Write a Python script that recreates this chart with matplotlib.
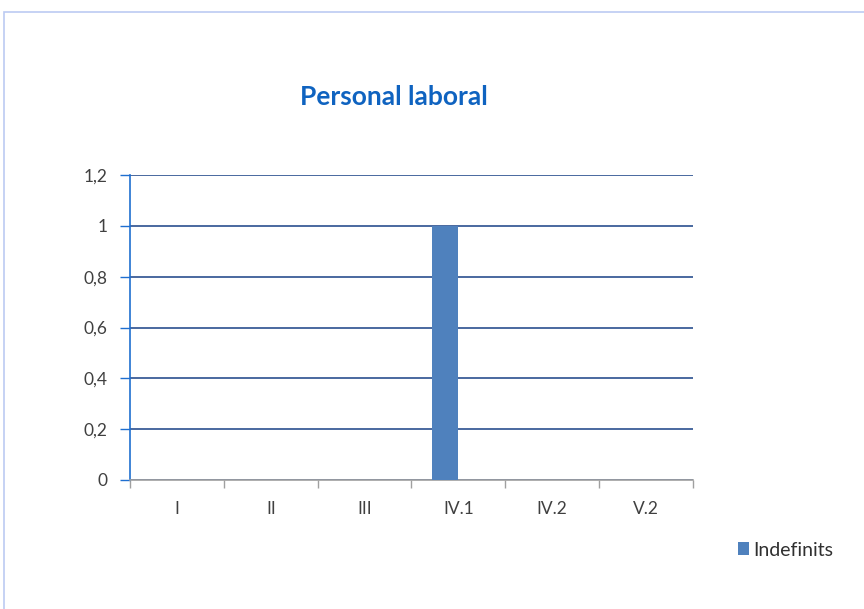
import matplotlib
matplotlib.use("Agg")
import matplotlib.pyplot as plt
import numpy as np
from matplotlib.patches import Rectangle
from matplotlib.ticker import FixedLocator, FuncFormatter

categories = ["I", "II", "III", "IV.1", "IV.2", "V.2"]
indefinits = [0, 0, 0, 1, 0, 0]
series_name = "Indefinits"
title = "Personal laboral"
yticks = [0, 0.2, 0.4, 0.6, 0.8, 1.0, 1.2]

plt.rcParams['font.family'] = ['Lato', 'DejaVu Sans']

W, H = 864, 609
fig = plt.figure(figsize=(W / 100, H / 100), dpi=100)

# outer chart border
fig.patches.append(Rectangle((4 / W, -0.1), 1.2, 1 - 12 / H + 0.1, transform=fig.transFigure,
                             fill=False, edgecolor='#bccbf2', linewidth=1.2))

ax = fig.add_axes([130 / W, 1 - 480 / H, 563 / W, 305 / H])
x = np.arange(len(categories))
bw = 1 / 3.5
ax.bar(x - bw / 2, indefinits, width=bw, color='#4f81bd', label=series_name, zorder=3)

ax.set_xlim(-0.5, len(categories) - 0.5)
ax.set_ylim(0, 1.2)
ax.yaxis.set_major_locator(FixedLocator(yticks))
ax.yaxis.set_major_formatter(FuncFormatter(lambda v, p: ('%g' % v).replace('.', ',')))
ax.grid(axis='y', color='#2a4f8f', linewidth=1.2, zorder=1)
ax.set_axisbelow(True)

ax.set_xticks(x)
ax.set_xticklabels(categories)
ax.xaxis.set_minor_locator(FixedLocator(np.arange(-0.5, len(categories), 1)))
ax.tick_params(axis='x', which='major', length=0, pad=15, labelsize=12.5, labelcolor='#404040')
ax.tick_params(axis='x', which='minor', length=6, color='#a0a0a0', width=1)
ax.tick_params(axis='y', length=7, color='#1f6fd0', width=1, labelsize=12.5, labelcolor='#404040', pad=9)

for s in ['top', 'right']:
    ax.spines[s].set_visible(False)
ax.spines['left'].set_color('#1f6fd0')
ax.spines['left'].set_linewidth(1.2)
ax.spines['bottom'].set_color('#a0a0a0')
ax.spines['bottom'].set_linewidth(1.2)

fig.text(394 / W, 1 - 97 / H, title, ha='center', va='center', fontsize=19,
         fontweight='bold', color='#0f63c0')

fig.legend(loc='center left', bbox_to_anchor=(720 / W, 1 - 550 / H), frameon=False,
           fontsize=14, handlelength=0.6, handleheight=0.6, handletextpad=0.2,
           labelcolor='#303030')

fig.savefig("out.png", dpi=100)
